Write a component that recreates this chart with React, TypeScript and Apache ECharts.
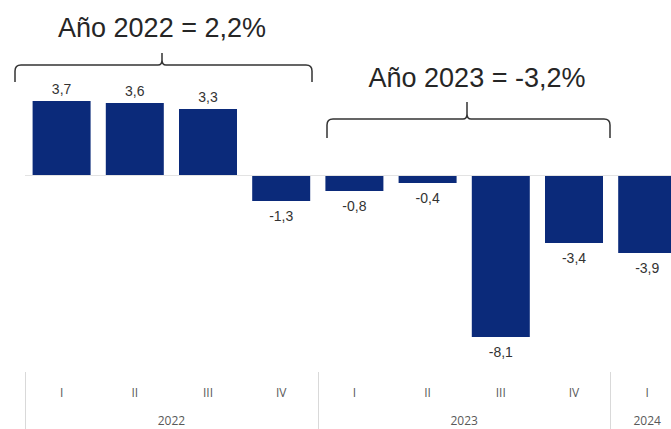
import React, { useEffect, useRef } from "react";
import * as echarts from "echarts";

const quarters = ["I", "II", "III", "IV", "I", "II", "III", "IV", "I"];
const years = ["2022", "2023", "2024"];
const yearSpans = [4, 4, 1];
const values = [3.7, 3.6, 3.3, -1.3, -0.8, -0.4, -8.1, -3.4, -3.9];
const annotations = ["Año 2022 = 2,2%", "Año 2023 = -3,2%"];

const categoryIds: string[] = [];
{
  let k = 0;
  years.forEach((y, yi) => {
    for (let j = 0; j < yearSpans[yi]; j++) {
      categoryIds.push(y + "|" + quarters[k]);
      k++;
    }
  });
}

echarts.graphic.registerShape(
  "brace",
  echarts.graphic.extendShape({
    shape: { x1: 0, x2: 0, cx: 0, y: 0, drop: 0, peak: 0, r: 6 },
    buildPath(ctx: any, s: any) {
      const r = s.r;
      ctx.moveTo(s.x1, s.y + s.drop);
      ctx.lineTo(s.x1, s.y + r);
      ctx.quadraticCurveTo(s.x1, s.y, s.x1 + r, s.y);
      ctx.lineTo(s.cx - 4, s.y);
      ctx.quadraticCurveTo(s.cx, s.y, s.cx, s.y - 5);
      ctx.lineTo(s.cx, s.y - s.peak);
      ctx.moveTo(s.cx, s.y - 5);
      ctx.quadraticCurveTo(s.cx, s.y, s.cx + 4, s.y);
      ctx.lineTo(s.x2 - r, s.y);
      ctx.quadraticCurveTo(s.x2, s.y, s.x2, s.y + r);
      ctx.lineTo(s.x2, s.y + s.drop);
    },
  })
);

export default function App() {
  const ref = useRef<HTMLDivElement>(null);
  useEffect(() => {
    if (!ref.current) return;
    const chart = echarts.init(ref.current, undefined, { renderer: "svg" });
    const fmt = (v: number) => v.toFixed(1).replace(".", ",");
    chart.setOption({
      animation: false,
      backgroundColor: "#ffffff",
      grid: { left: 25, width: 9 * 73.2, top: 0, bottom: 57 },
      xAxis: {
        type: "category",
        data: categoryIds,
        axisLine: { show: false, onZero: false },
        axisTick: {
          show: true,
          length: 57,
          interval: (i: number) => i % 4 === 0,
          lineStyle: { color: "#d9d9d9", width: 1 },
        },
        axisLabel: {
          interval: 0,
          margin: 14,
          color: "#595959",
          fontSize: 12,
          fontFamily: "Open Sans",
          formatter: (v: string) => v.split("|")[1],
        },
      },
      yAxis: {
        type: "value",
        min: -9.85,
        max: 8.75,
        show: false,
        splitLine: { show: false },
      },
      series: [
        {
          type: "bar",
          data: values.map((v) => ({
            value: v,
            label: {
              position: v >= 0 ? "top" : "bottom",
              distance: v >= 0 ? 5 : 8,
            },
          })),
          barWidth: 58,
          itemStyle: { color: "#0b2a7a" },
          label: {
            show: true,
            color: "#333333",
            fontSize: 14,
            fontFamily: "Liberation Sans",
            formatter: (p: any) => fmt(p.value),
          },
          markLine: {
            silent: true,
            symbol: "none",
            label: { show: false },
            lineStyle: { color: "#e3e3e3", width: 1, type: "solid" },
            data: [{ yAxis: 0 }],
          },
        },
      ],
    });

    const px = (i: number) => chart.convertToPixel({ xAxisIndex: 0 }, categoryIds[i]) as number;
    const yearTexts: any[] = [];
    let start = 0;
    years.forEach((y, yi) => {
      const n = yearSpans[yi];
      const cx = (px(start) + px(start + n - 1)) / 2;
      yearTexts.push({
        type: "text",
        x: cx,
        y: 420,
        style: {
          text: y,
          fill: "#595959",
          font: "12px 'Open Sans'",
          align: "center",
          verticalAlign: "middle",
        },
      });
      start += n;
    });

    chart.setOption({
      graphic: [
        ...yearTexts,
        {
          type: "text",
          x: 162,
          y: 28,
          style: {
            text: annotations[0],
            fill: "#262626",
            font: "27px 'Liberation Sans'",
            align: "center",
            verticalAlign: "middle",
          },
        },
        {
          type: "text",
          x: 477,
          y: 78,
          style: {
            text: annotations[1],
            fill: "#262626",
            font: "27px 'Liberation Sans'",
            align: "center",
            verticalAlign: "middle",
          },
        },
        {
          type: "brace",
          shape: { x1: 15, x2: 312, cx: 162, y: 65, drop: 17, peak: 12, r: 6 },
          style: { stroke: "#333333", lineWidth: 1.5, fill: null },
        },
        {
          type: "brace",
          shape: { x1: 327, x2: 610, cx: 467, y: 119, drop: 19, peak: 17, r: 6 },
          style: { stroke: "#333333", lineWidth: 1.5, fill: null },
        },
      ],
    });
    return () => chart.dispose();
  }, []);
  return (
    <div
      style={{
        position: "fixed",
        left: 0,
        top: 0,
        width: 671,
        height: 429,
        overflow: "hidden",
        background: "#fff",
      }}
    >
      <div ref={ref} style={{ width: 690, height: 429 }} />
    </div>
  );
}
